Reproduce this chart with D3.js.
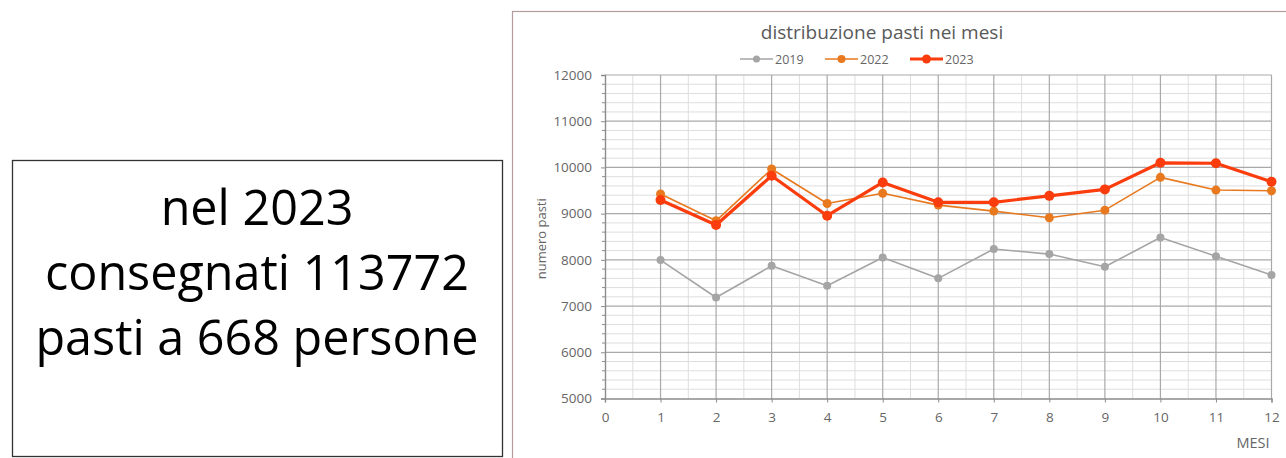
<!DOCTYPE html>
<html>
<head>
<meta charset="utf-8">
<script src="https://cdn.jsdelivr.net/npm/d3@7"></script>
<style>
  body { margin: 0; background: #fff; }
  svg { display: block; }
</style>
</head>
<body>
<svg id="chart" width="1286" height="458"></svg>
<script>
// months 1..12
const months = [1, 2, 3, 4, 5, 6, 7, 8, 9, 10, 11, 12];
const pasti2019 = [7995, 7185, 7870, 7440, 8050, 7600, 8235, 8125, 7850, 8485, 8080, 7670];
const pasti2022 = [9425, 8845, 9965, 9220, 9440, 9185, 9055, 8910, 9075, 9785, 9510, 9495];
const pasti2023 = [9295, 8755, 9820, 8955, 9675, 9245, 9245, 9385, 9525, 10100, 10090, 9690];
const xTicks = [0, 1, 2, 3, 4, 5, 6, 7, 8, 9, 10, 11, 12];
const yTicks = [5000, 6000, 7000, 8000, 9000, 10000, 11000, 12000];
const infoLines = ["nel 2023", "consegnati 113772", "pasti a 668 persone"];

const series = [
  { name: "2019", values: pasti2019, color: "#a5a5a5", width: 1.6, r: 4 },
  { name: "2022", values: pasti2022, color: "#e8791f", width: 1.6, r: 4.5 },
  { name: "2023", values: pasti2023, color: "#fb3c0c", width: 3.2, r: 5 }
];

const svg = d3.select("#chart");
const font = "'Open Sans', sans-serif";

// left info box
svg.append("rect")
  .attr("x", 12.5).attr("y", 160.5).attr("width", 490).attr("height", 296)
  .attr("fill", "#fff").attr("stroke", "#333").attr("stroke-width", 1.3);

svg.append("g").selectAll("text")
  .data(infoLines)
  .join("text")
  .attr("x", 257)
  .attr("y", (d, i) => 225 + i * 65)
  .attr("text-anchor", "middle")
  .attr("font-family", font)
  .attr("font-size", 48.5)
  .attr("fill", "#000")
  .text(d => d);

// chart frame
svg.append("rect")
  .attr("x", 512.5).attr("y", 11.5).attr("width", 780).attr("height", 460)
  .attr("fill", "#fff").attr("stroke", "#b59c9c").attr("stroke-width", 1.2);

const x = d3.scaleLinear().domain([0, 12]).range([605, 1271.5]);
const y = d3.scaleLinear().domain([5000, 12000]).range([398.5, 75]);
const minorY = d3.range(5200, 12000, 200).filter(v => v % 1000 !== 0);

// minor grid
const grid = svg.append("g");
grid.selectAll(".vminor")
  .data(d3.range(0.5, 12, 1))
  .join("line")
  .attr("x1", d => x(d)).attr("x2", d => x(d))
  .attr("y1", y(12000)).attr("y2", y(5000))
  .attr("stroke", "#dedede").attr("stroke-width", 1);
grid.selectAll(".hminor")
  .data(minorY)
  .join("line")
  .attr("x1", x(0)).attr("x2", x(12))
  .attr("y1", d => y(d)).attr("y2", d => y(d))
  .attr("stroke", "#dedede").attr("stroke-width", 1);

// major grid
grid.selectAll(".vmajor")
  .data(xTicks.slice(1))
  .join("line")
  .attr("x1", d => x(d)).attr("x2", d => x(d))
  .attr("y1", y(12000)).attr("y2", y(5000))
  .attr("stroke", "#a9a9a9").attr("stroke-width", 1.2);
grid.selectAll(".hmajor")
  .data(yTicks.slice(1))
  .join("line")
  .attr("x1", x(0)).attr("x2", x(12))
  .attr("y1", d => y(d)).attr("y2", d => y(d))
  .attr("stroke", "#a9a9a9").attr("stroke-width", 1.2);

// axes
const yAxis = svg.append("g")
  .attr("transform", `translate(${x(0)},0)`)
  .call(d3.axisLeft(y).tickValues(yTicks).tickSize(4).tickPadding(9).tickFormat(d3.format("d")));
yAxis.select(".domain").attr("stroke", "#8c8c8c").attr("stroke-width", 1.4);
yAxis.selectAll(".tick line").attr("stroke", "#8c8c8c");
yAxis.selectAll("text").attr("font-family", font).attr("font-size", 13.5).attr("fill", "#666");
// minor tick marks on y axis
svg.append("g").selectAll("line")
  .data(minorY)
  .join("line")
  .attr("x1", x(0) - 3).attr("x2", x(0))
  .attr("y1", d => y(d)).attr("y2", d => y(d))
  .attr("stroke", "#8c8c8c");

const xAxis = svg.append("g")
  .attr("transform", `translate(0,${y(5000)})`)
  .call(d3.axisBottom(x).tickValues(xTicks).tickSize(4).tickPadding(10).tickFormat(d3.format("d")));
xAxis.select(".domain").attr("stroke", "#8c8c8c").attr("stroke-width", 1.4);
xAxis.selectAll(".tick line").attr("stroke", "#8c8c8c");
xAxis.selectAll("text").attr("font-family", font).attr("font-size", 13.5).attr("fill", "#666");

// axis titles
svg.append("text")
  .attr("x", 1253).attr("y", 448)
  .attr("text-anchor", "middle")
  .attr("font-family", font).attr("font-size", 14.5).attr("fill", "#666")
  .text("MESI");
svg.append("text")
  .attr("transform", `translate(546,${(y(5000) + y(12000)) / 2 + 2}) rotate(-90)`)
  .attr("text-anchor", "middle")
  .attr("font-family", font).attr("font-size", 13).attr("fill", "#666")
  .text("numero pasti");

// title
svg.append("text")
  .attr("x", 882).attr("y", 39)
  .attr("text-anchor", "middle")
  .attr("font-family", font).attr("font-size", 19).attr("fill", "#595959")
  .text("distribuzione pasti nei mesi");

// series
const line = d3.line().x((d, i) => x(months[i])).y(d => y(d));
const sg = svg.append("g").selectAll("g")
  .data(series)
  .join("g");
sg.append("path")
  .attr("d", d => line(d.values))
  .attr("fill", "none")
  .attr("stroke", d => d.color)
  .attr("stroke-width", d => d.width)
  .attr("stroke-linejoin", "round");
sg.each(function(s) {
  d3.select(this).selectAll("circle")
    .data(s.values)
    .join("circle")
    .attr("cx", (d, i) => x(months[i]))
    .attr("cy", d => y(d))
    .attr("r", s.r)
    .attr("fill", s.color);
});

// legend
const legendX = [740, 825, 910];
const lg = svg.append("g").selectAll("g")
  .data(series)
  .join("g")
  .attr("transform", (d, i) => `translate(${legendX[i]},59)`);
lg.append("line")
  .attr("x1", 0).attr("x2", 33)
  .attr("stroke", d => d.color)
  .attr("stroke-width", d => d.width);
lg.append("circle")
  .attr("cx", 16.5).attr("r", d => d.r - 0.5)
  .attr("fill", d => d.color);
lg.append("text")
  .attr("x", 35).attr("y", 4.5)
  .attr("font-family", font).attr("font-size", 12.5).attr("fill", "#666")
  .text(d => d.name);
</script>
</body>
</html>
